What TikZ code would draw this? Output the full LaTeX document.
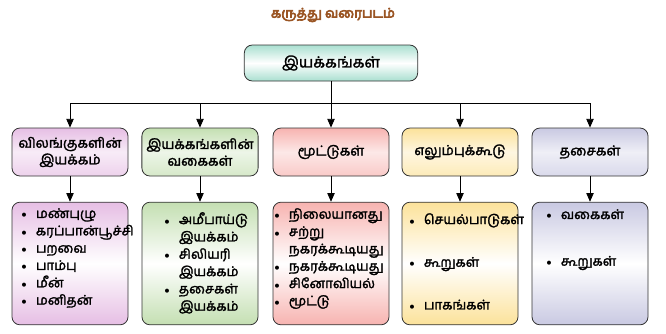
\documentclass[tikz,border=0pt]{standalone}
\usepackage{fontspec}
\setmainfont{Hind Madurai}[Script=Tamil]
\usetikzlibrary{arrows.meta,positioning}

\definecolor{titlebrown}{HTML}{9A5524}
\definecolor{topteal}{HTML}{A9DFD0}
\definecolor{cpink}{HTML}{E6BEE4}
\definecolor{cgreen}{HTML}{C4DFB2}
\definecolor{cred}{HTML}{F7B3B0}
\definecolor{cyellow}{HTML}{FCE29A}
\definecolor{clav}{HTML}{C9C9E2}
\newcommand{\blt}{\makebox[11pt][l]{\scriptsize$\bullet$}}
\newcommand{\ind}{\hspace*{11pt}}
%% heavier text: fill + stroke rendering mode
\newcommand{\heavy}[2][0.2]{\special{pdf:literal direct 2 Tr #1 w}#2\special{pdf:literal direct 0 Tr}}

\begin{document}
\begin{tikzpicture}[x=0.75pt, y=-0.75pt,
  box/.style={draw=black!80, line width=0.6pt, rounded corners=6pt,
              minimum width=87pt, minimum height=36pt,
              font=\fontsize{10.3}{12.5}\selectfont, align=center},
  lbox/.style={box, minimum height=92pt},
  list/.style={font=\fontsize{10}{13}\selectfont, align=left,
               inner sep=0pt, anchor=north west},
  arr/.style={-{Triangle[length=6.5pt,width=5.5pt]}, line width=0.6pt}
]
\useasboundingbox (0,0) rectangle (666,333);

%% Title
\node[font=\fontsize{10}{12}\selectfont, text=titlebrown] (title) at (333,15) {\heavy[0.5]{கருத்து வரைபடம்}};

%% Root box
\node[box, minimum width=130pt, minimum height=27pt, font=\fontsize{11.5}{13}\selectfont,
      top color=topteal, bottom color=topteal, middle color=white] (root) at (331,63) {\heavy{இயக்கங்கள்}};
\coordinate (bus) at (331,103);

%% Second level boxes at x = 70, 200, 330, 460, 590
\node[box, top color=cpink, bottom color=cpink!70, middle color=cpink!30] (anim) at (70,152) {\heavy{விலங்குகளின்}\\\heavy{இயக்கம்}};
\node[box, top color=cgreen, bottom color=cgreen!70, middle color=cgreen!30] (kind) at (200,152) {\heavy{இயக்கங்களின்}\\\heavy{வகைகள்}};
\node[box, top color=cred, bottom color=cred!70, middle color=cred!30] (join) at (331,152) {\heavy{மூட்டுகள்}};
\node[box, top color=cyellow, bottom color=cyellow!70, middle color=cyellow!30] (skel) at (460,152) {\heavy{எலும்புக்கூடு}};
\node[box, top color=clav, bottom color=clav!70, middle color=clav!30] (musc) at (590,152) {\heavy{தசைகள்}};

\draw[line width=0.6pt] (root.south) -- (bus);
\foreach \n in {anim,kind,join,skel,musc}
  \draw[arr] (bus) -| (\n.north);

%% Third level boxes
\node[lbox, top color=cpink, bottom color=cpink, middle color=white] (animL) at (70,263.5) {};
\node[lbox, top color=cgreen, bottom color=cgreen, middle color=white] (kindL) at (200,263.5) {};
\node[lbox, top color=cred, bottom color=cred, middle color=white] (joinL) at (331,263.5) {};
\node[lbox, top color=cyellow, bottom color=cyellow, middle color=white] (skelL) at (460,263.5) {};
\node[lbox, top color=clav, bottom color=clav, middle color=white] (muscL) at (590,263.5) {};

\foreach \n in {anim,kind,join,skel,musc}
  \draw[arr] (\n.south) -- (\n L.north);

%% Lists
\node[list] (animT) at (21,208) {\blt\heavy{மண்புழு}\\\blt\heavy{கரப்பான்பூச்சி}\\\blt\heavy{பறவை}\\\blt\heavy{பாம்பு}\\\blt\heavy{மீன்}\\\blt\heavy{மனிதன்}};
\node[list] (kindT) at (164,212) {\blt\heavy{அமீபாய்டு}\\\ind\heavy{இயக்கம்}\\\blt\heavy{சிலியரி}\\\ind\heavy{இயக்கம்}\\\blt\heavy{தசைகள்}\\\ind\heavy{இயக்கம்}};
\node[list] (joinT) at (274,208) {\blt\heavy{நிலையானது}\\\blt\heavy{சற்று}\\\ind\heavy{நகரக்கூடியது}\\\blt\heavy{நகரக்கூடியது}\\\blt\heavy{சினோவியல்}\\\blt\heavy{மூட்டு}};
\node[list, font=\fontsize{10}{32}\selectfont] (skelT) at (409,213) {\blt\heavy{செயல்பாடுகள்}\\\blt\heavy{கூறுகள்}\\\blt\heavy{பாகங்கள்}};
\node[list, font=\fontsize{10}{35}\selectfont] (muscT) at (546,209) {\blt\heavy{வகைகள்}\\\blt\heavy{கூறுகள்}};
\end{tikzpicture}
\end{document}
